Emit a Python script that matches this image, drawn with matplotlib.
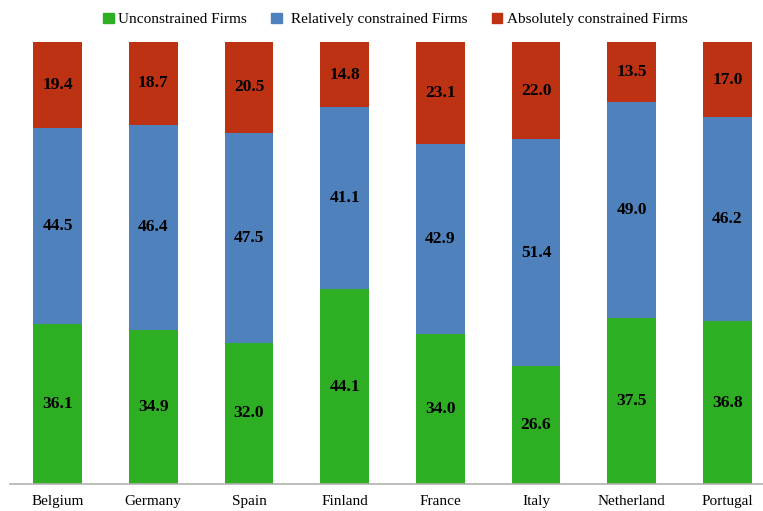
import matplotlib.pyplot as plt
from matplotlib.patches import Patch

countries = ["Belgium", "Germany", "Spain", "Finland", "France", "Italy", "Netherland", "Portugal"]
unconstrained = [36.1, 34.9, 32.0, 44.1, 34.0, 26.6, 37.5, 36.8]
relatively = [44.5, 46.4, 47.5, 41.1, 42.9, 51.4, 49.0, 46.2]
absolutely = [19.4, 18.7, 20.5, 14.8, 23.1, 22.0, 13.5, 17.0]

GREEN = "#2eae22"
BLUE = "#4f81bd"
RED = "#bd3213"

plt.rcParams["font.family"] = ["Liberation Serif", "DejaVu Serif"]

fig = plt.figure(figsize=(7.63, 5.11), dpi=100)
# axes runs slightly past the right edge, as in the original
ax = fig.add_axes([0.0127, 0.0528, 1.0034, 0.865])

x = range(len(countries))
width = 0.51
bottom2 = [u + r for u, r in zip(unconstrained, relatively)]
series = [
    (unconstrained, [0] * len(countries), GREEN),
    (relatively, unconstrained, BLUE),
    (absolutely, bottom2, RED),
]
for values, base, color in series:
    bars = ax.bar(x, values, width, bottom=base, color=color, edgecolor="none")
    for rect, v in zip(bars, values):
        ax.text(rect.get_x() + rect.get_width() / 2, rect.get_y() + rect.get_height() / 2,
                f"{v:.1f}", ha="center", va="center", fontsize=12.5, fontweight="bold")

ax.set_xlim(-0.5, len(countries) - 0.5)
ax.set_ylim(0, 100)
ax.set_xticks(list(x))
ax.set_xticklabels(countries, fontsize=11)
ax.tick_params(axis="x", length=0, pad=8)
ax.set_yticks([])
for side in ["left", "right", "top"]:
    ax.spines[side].set_visible(False)
ax.spines["bottom"].set_color("#b0b0b0")
ax.spines["bottom"].set_linewidth(1.2)

handles = [
    Patch(color=GREEN, label="Unconstrained Firms"),
    Patch(color=BLUE, label=" Relatively constrained Firms"),
    Patch(color=RED, label="Absolutely constrained Firms"),
]
fig.legend(handles=handles, loc="center", bbox_to_anchor=(0.518, 0.962), ncol=3, frameon=False,
           fontsize=11, handlelength=0.7, handleheight=0.7, handletextpad=0.3, columnspacing=1.6)

fig.savefig("out.png", dpi=100)
